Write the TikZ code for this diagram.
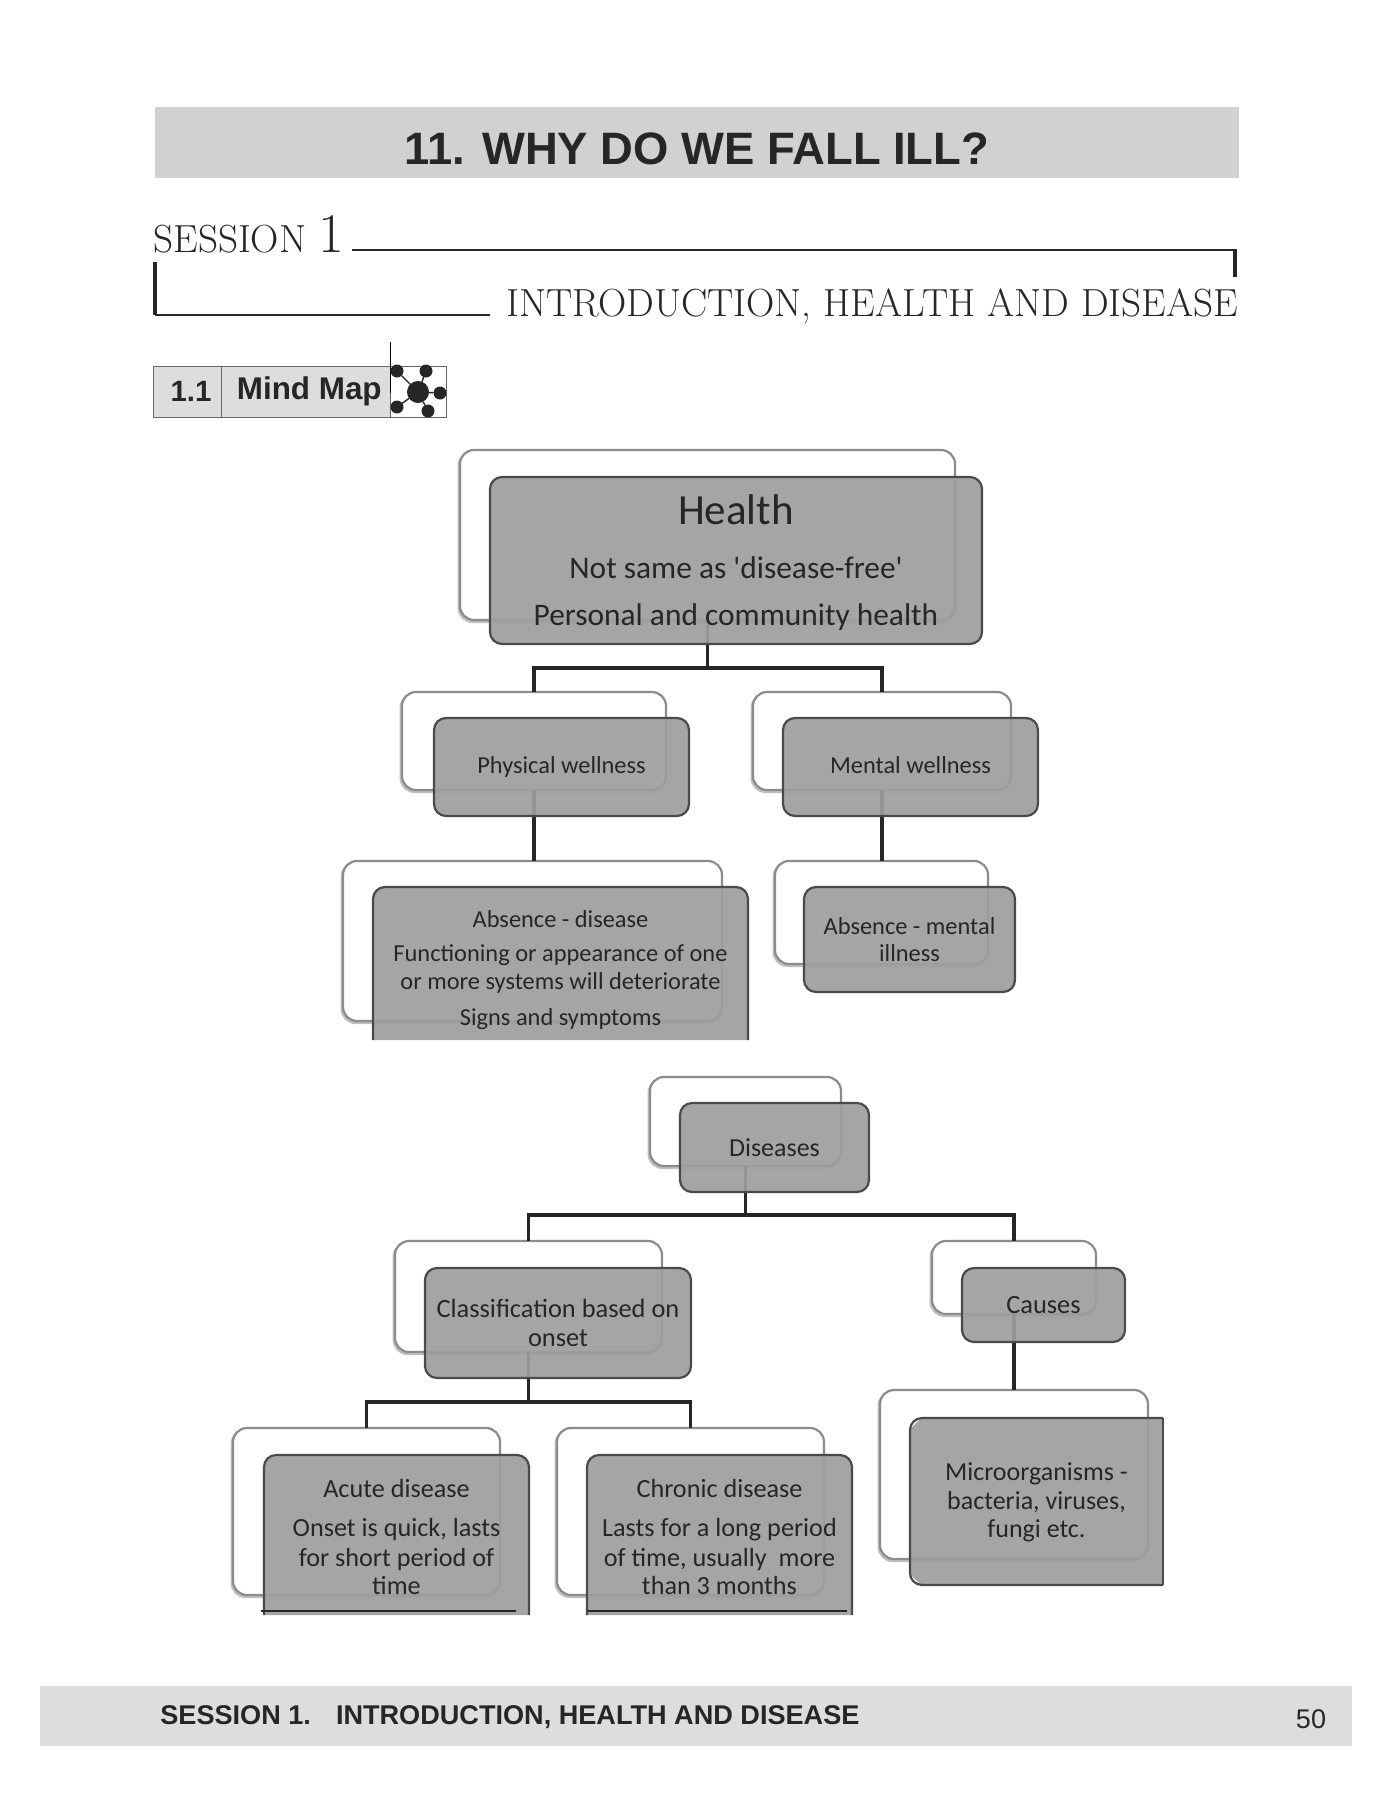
\documentclass[tikz,border=0pt]{standalone}
\usepackage{fontspec}
\newfontfamily\hv{Liberation Sans}
\newfontfamily\cb{Carlito}
\pgfdeclarelayer{backbox}
\pgfdeclarelayer{conn}
\pgfsetlayers{backbox,conn,main}
\definecolor{barA}{HTML}{D0D1D3}
\definecolor{barB}{HTML}{DCDDDE}
\definecolor{ffill}{HTML}{9E9E9E}
\definecolor{fline}{HTML}{4A4A4A}
\definecolor{bline}{HTML}{8C8C8C}
\definecolor{ink}{HTML}{262626}
\tikzset{
  x=0.5pt,y=-0.5pt,
  boxbase/.style={rectangle,inner sep=0pt,outer sep=0pt,align=center,text=ink,font=\cb},
  backbox/.style={boxbase,draw=bline,line width=1.1pt,fill=white,rounded corners=7pt,
    preaction={draw=black!25,line width=1.3pt,rounded corners=7pt,transform canvas={shift={(-0.6pt,-0.9pt)}}}},
  frontbox/.style={boxbase,draw=fline,line width=1.1pt,fill=ffill,fill opacity=0.92,text opacity=1,rounded corners=6pt},
  fronttext/.style={boxbase},
  openfill/.style={draw=fline,line width=1.1pt,fill=ffill,fill opacity=0.92,rounded corners=6pt},
  link/.style={draw=black!85,line width=1.7pt},
  rulethick/.style={draw=black!85,line width=1.1pt},
  cell/.style={rectangle,draw=black!60,line width=0.5pt,fill=barB,inner sep=0pt,outer sep=0pt,font=\hv\bfseries,text=black!85},
  hubdot/.style={circle,fill=black!85,inner sep=0pt,outer sep=0pt},
  spoke/.style={draw=black!85,line width=0.7pt},
  fsz/.style n args={2}{font=\cb\fontsize{#1}{#2}\selectfont},
}
% name x1 y1 x2 y2 style text
\newcommand\rbox[7]{%
  \pgfmathsetmacro\cxx{(#2+#4)/2}\pgfmathsetmacro\cyy{(#3+#5)/2}%
  \pgfmathsetmacro\wdd{(#4-#2)*0.5}\pgfmathsetmacro\htt{(#5-#3)*0.5}%
  \node[#6,minimum width=\wdd pt,minimum height=\htt pt] (#1) at (\cxx,\cyy) {#7};}
\newcommand\openbox[7]{%
  \path[openfill,draw=none] (#2,#5) -- (#2,#3) -- (#4,#3) -- (#4,#5);
  \draw[openfill,fill=none] (#2,#5) -- (#2,#3) -- (#4,#3) -- (#4,#5);
  \rbox{#1}{#2}{#3}{#4}{#5}{fronttext,#6}{#7}}
\begin{document}
\begin{tikzpicture}
\useasboundingbox (0,0) rectangle (1391,1800);
\begin{pgfonlayer}{backbox}
\fill[white] (0,0) rectangle (1391,1800);
\end{pgfonlayer}
% header
\rbox{titlebar}{155}{107}{1239}{178}{boxbase,fill=barA,text=black!85,font=\hv\bfseries\fontsize{22.7}{26}\selectfont}{\raisebox{-11pt}[0pt][0pt]{11. WHY DO WE FALL ILL?}}
\node[inner sep=0pt,anchor=base west,text=black!85] (sess) at (153,252) {\fontsize{19.6}{24}\selectfont SESSION \fontsize{28}{30}\selectfont 1};
\coordinate (r1a) at (352,250);
\coordinate (r1b) at (1237,250);
\coordinate (r1c) at (1235,277);
\draw[rulethick] (r1a) -- (r1b);
\draw[draw=black!85,line width=2pt] (r1b |- r1a) ++(-2,0) -- (r1c);
\coordinate (r2a) at (155,262);
\coordinate (r2b) at (155,315);
\coordinate (r2c) at (490,315);
\draw[draw=black!85,line width=2.4pt] (r2a) -- (r2b);
\draw[rulethick] (r2b) -- (r2c);
\node[inner sep=0pt,anchor=base east,text=black!85] (intro) at (1238.5,316) {\fontsize{19.6}{22}\selectfont INTRODUCTION, HEALTH AND DISEASE};
% mind map tag
\rbox{c11}{153}{366}{221}{417}{cell,font=\hv\bfseries\fontsize{14.7}{18}\selectfont}{\hspace{4pt}1.1}
\rbox{cmm}{221}{366}{390}{417}{cell,font=\hv\bfseries\fontsize{15.7}{18}\selectfont}{\hspace{3.8pt}\raisebox{3pt}{Mind Map}}
\rbox{cic}{390}{366}{446}{417}{cell,fill=white}{}
\coordinate (tk) at (390,342);
\draw[draw=black,line width=0.5pt] (tk) -- (390,393);
\node[hubdot,minimum size=11pt] (hub) at (418,392) {};
\foreach \n/\a/\b in {s1/397/371,s2/426/371,s3/440/393,s4/428/411,s5/397/407}{
  \node[hubdot,minimum size=6.5pt] (\n) at (\a,\b) {};
  \draw[spoke] (hub) -- (\n);
}
% back boxes
\begin{pgfonlayer}{backbox}
\rbox{hb}{460}{450}{955}{620}{backbox}{}
\rbox{pb}{402}{692}{666}{790}{backbox}{}
\rbox{mb}{753}{692}{1011}{790}{backbox}{}
\rbox{adb}{343}{861}{722}{1021}{backbox}{}
\rbox{amb}{775}{861}{988}{964}{backbox}{}
\rbox{db}{650}{1077}{841}{1166}{backbox}{}
\rbox{clb}{395}{1241}{662}{1352}{backbox}{}
\rbox{cab}{932}{1241}{1096}{1314}{backbox}{}
\rbox{mib}{880}{1390}{1148}{1559}{backbox}{}
\rbox{acb}{233}{1428}{500}{1595}{backbox}{}
\rbox{chb}{557}{1428}{824}{1595}{backbox}{}
\end{pgfonlayer}
% front boxes
\rbox{hf}{490}{477}{982}{644}{frontbox,fsz={15.7}{23}}{%
  {\fontsize{21.5}{29}\selectfont\rule{0pt}{17pt}Health}\\[4.3pt]
  Not same as 'disease-free'\\[0.5pt]
  Personal and community health}
\rbox{pf}{434}{718}{689}{816}{frontbox,fsz={12.2}{14}}{Physical wellness}
\rbox{mf}{783}{718}{1038}{816}{frontbox,fsz={12.2}{14}}{\vphantom{y}Mental wellness}
\openbox{adf}{373}{887}{748}{1040}{fsz={12.2}{14},yshift=-3.1pt}{Absence - disease\\[3pt]
  Functioning or appearance of one\\ or more systems will deteriorate\\[4pt]
  Signs and symptoms}
\rbox{amf}{804}{887}{1015}{992}{frontbox,fsz={12.2}{13}}{\raisebox{0.8pt}{Absence - mental}\\ illness}
\rbox{df}{680}{1103}{869}{1192}{frontbox,fsz={13}{14}}{Diseases}
\rbox{clf}{425}{1268}{691}{1378}{frontbox,fsz={13.2}{14.3}}{Classification based on\\ onset}
\rbox{caf}{962}{1268}{1125}{1342}{frontbox,fsz={13.2}{14}}{Causes}
% microorganisms: square right corners
\path[openfill,draw=none,rounded corners=0pt] (1163,1418) -- (1163,1585) -- (921,1585) -- (910,1574) -- (910,1429) -- (921,1418) -- cycle;
\draw[openfill,fill=none] (1163,1585) -- (910,1585) -- (910,1418) -- (1163,1418);
\draw[draw=fline,line width=1.1pt] (1163,1418) -- (1163,1585);
\rbox{mif}{910}{1418}{1163}{1585}{fronttext,fsz={13}{14.3},yshift=-0.5pt}{Microorganisms -\\ bacteria, viruses,\\ fungi etc.}
\openbox{acf}{264}{1455}{529}{1615}{fsz={13.1}{14},yshift=-1.1pt}{Acute disease\\[5.5pt]
  Onset is quick, lasts\\[1pt] for short period of\\ time}
\openbox{chf}{587}{1455}{852}{1615}{fsz={13.1}{14},yshift=-1.1pt}{Chronic disease\\[5.5pt]
  Lasts for a long period\\[1pt] of time, usually\ \ more\\ than 3 months}
\coordinate (acl) at (261,1611);
\coordinate (acr) at (516,1611);
\coordinate (chl) at (588,1611);
\coordinate (chr) at (847,1611);
\draw[rulethick] (acl) -- (acr);
\draw[rulethick] (chl) -- (chr);
% connectors
\coordinate (j1) at (0,668);
\coordinate (j2) at (0,1215);
\coordinate (j3) at (0,1402);
\begin{pgfonlayer}{conn}
\draw[link] (hb.south) -- (hb.south |- j1);
\draw[link] (pb.north) -- (pb.north |- j1) -- (mb.north |- j1) -- (mb.north);
\draw[link] (pb.south) -- (adb.north -| pb.south);
\draw[link] (mb.south) -- (amb.north -| mb.south);
\draw[link] (db.south) -- (db.south |- j2);
\draw[link] (clb.north) -- (clb.north |- j2) -- (cab.north |- j2) -- (cab.north);
\draw[link] (clb.south) -- (clb.south |- j3);
\draw[link] (acb.north) -- (acb.north |- j3) -- (chb.north |- j3) -- (chb.north);
\draw[link] (cab.south) -- (mib.north -| cab.south);
\end{pgfonlayer}
% footer
\rbox{foot}{40}{1686}{1352}{1746}{boxbase,fill=barB}{}
\node[inner sep=0pt,anchor=base west,text=black!85,font=\hv\bfseries\fontsize{13.55}{16}\selectfont] (ftxt) at (160,1724) {SESSION 1.\hspace{12.5pt}INTRODUCTION, HEALTH AND DISEASE};
\node[inner sep=0pt,anchor=base,text=black!85,font=\hv\fontsize{13.5}{16}\selectfont] (pg) at (1311,1728) {50};
\end{tikzpicture}
\end{document}
